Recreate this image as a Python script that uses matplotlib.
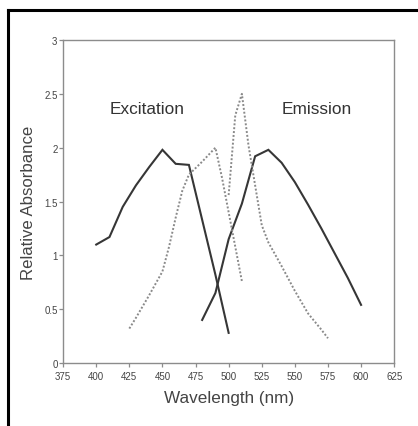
import matplotlib
matplotlib.use("Agg")
import matplotlib.pyplot as plt
from matplotlib.lines import Line2D

plt.rcParams["font.family"] = ["Liberation Sans", "DejaVu Sans"]

# Excitation (solid) and emission (solid)
exc_wl = [400, 410, 420, 430, 440, 450, 460, 470, 480, 490, 500]
exc_val = [1.10, 1.17, 1.45, 1.65, 1.82, 1.98, 1.85, 1.84, 1.33, 0.82, 0.28]

emi_wl = [480, 490, 500, 510, 520, 530, 540, 550, 560, 570, 580, 590, 600]
emi_val = [0.40, 0.65, 1.15, 1.48, 1.92, 1.98, 1.86, 1.68, 1.47, 1.25, 1.02, 0.79, 0.54]

# Dotted excitation and emission
exc2_wl = [425, 430, 440, 450, 455, 460, 465, 470, 480, 490, 495, 500, 510]
exc2_val = [0.32, 0.42, 0.63, 0.85, 1.08, 1.35, 1.60, 1.75, 1.87, 2.00, 1.72, 1.40, 0.76]

emi2_wl = [500, 505, 510, 515, 520, 525, 530, 540, 550, 560, 570, 575]
emi2_val = [1.56, 2.30, 2.50, 2.02, 1.65, 1.28, 1.12, 0.90, 0.67, 0.46, 0.31, 0.23]

x_ticks = [375, 400, 425, 450, 475, 500, 525, 550, 575, 600, 625]
y_ticks = [0, 0.5, 1, 1.5, 2, 2.5, 3]
y_tick_labels = ["0", "0.5", "1", "1.5", "2", "2.5", "3"]

fig = plt.figure(figsize=(4.18, 4.27), dpi=100)
ax = fig.add_axes([0.151, 0.1475, 0.792, 0.7565])

solid = dict(color="#363636", linewidth=1.5, solid_joinstyle="miter")
dotted = dict(color="#8a8a8a", linewidth=1.4, linestyle=(0, (1, 1)))

ax.plot(exc_wl, exc_val, **solid)
ax.plot(emi_wl, emi_val, **solid)
ax.plot(exc2_wl, exc2_val, **dotted)
ax.plot(emi2_wl, emi2_val, **dotted)

ax.set_xlim(375, 625)
ax.set_ylim(0, 3)
ax.set_xticks(x_ticks)
ax.set_yticks(y_ticks)
ax.set_yticklabels(y_tick_labels)

for side in ["left", "bottom", "right", "top"]:
    ax.spines[side].set_color("#8c8c8c")
    ax.spines[side].set_linewidth(1.0)

ax.tick_params(direction="out", length=3, width=0.9, color="#8c8c8c",
               labelsize=7, labelcolor="#444444", pad=1)
ax.tick_params(axis="x", pad=2.5)

ax.set_xlabel("Wavelength (nm)", fontsize=12.3, color="#444444", labelpad=7)
ax.set_ylabel("Relative Absorbance", fontsize=12.1, color="#444444", labelpad=6)

ax.text(410, 2.36, "Excitation", fontsize=12.4, color="#333333", va="center")
ax.text(540, 2.36, "Emission", fontsize=12.4, color="#333333", va="center")

# black frame lines on left and top of the picture
fig.add_artist(Line2D([0.019, 0.019], [0.0, 0.975], transform=fig.transFigure,
                      color="black", linewidth=2.2))
fig.add_artist(Line2D([0.019, 1.0], [0.975, 0.975], transform=fig.transFigure,
                      color="black", linewidth=2.2))

fig.savefig("out.png", dpi=100)
